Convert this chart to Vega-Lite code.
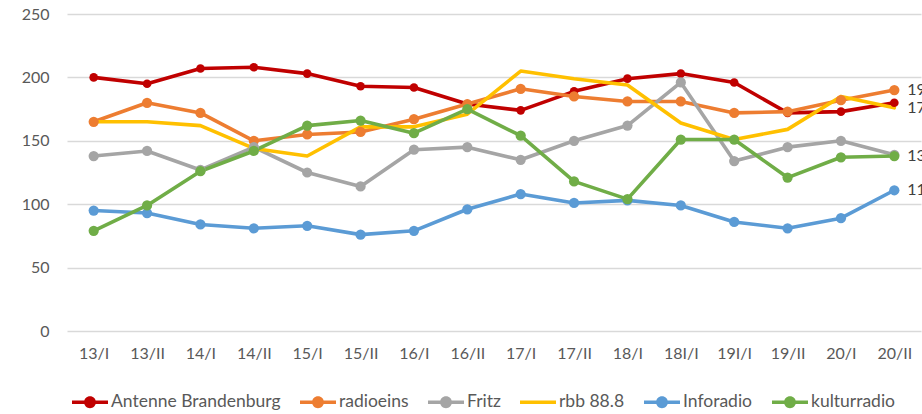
{
  "$schema": "https://vega.github.io/schema/vega-lite/v6.json",
  "width": 854,
  "height": 317,
  "autosize": {"type": "none"},
  "padding": {"left": 67, "top": 14, "right": 1, "bottom": 83},
  "background": "white",
  "config": {
    "view": {"stroke": null},
    "font": "Lato",
    "axis": {"labelFont": "Lato", "labelColor": "#595959", "labelFontSize": 16, "title": null},
    "legend": {"title": null, "orient": "none", "direction": "horizontal", "legendX": 5, "legendY": 370,
      "labelFont": "Lato", "labelFontSize": 17.5, "labelColor": "#595959", "labelOffset": 3, "labelLimit": 0,
      "columnPadding": 19, "symbolSize": 1296, "symbolStrokeWidth": 0, "symbolOpacity": 1}
  },
  "data": {
    "values": [
      {"period": "13/I", "station": "Antenne Brandenburg", "value": 200},
      {"period": "13/II", "station": "Antenne Brandenburg", "value": 195},
      {"period": "14/I", "station": "Antenne Brandenburg", "value": 207},
      {"period": "14/II", "station": "Antenne Brandenburg", "value": 208},
      {"period": "15/I", "station": "Antenne Brandenburg", "value": 203},
      {"period": "15/II", "station": "Antenne Brandenburg", "value": 193},
      {"period": "16/I", "station": "Antenne Brandenburg", "value": 192},
      {"period": "16/II", "station": "Antenne Brandenburg", "value": 179},
      {"period": "17/I", "station": "Antenne Brandenburg", "value": 174},
      {"period": "17/II", "station": "Antenne Brandenburg", "value": 189},
      {"period": "18/I", "station": "Antenne Brandenburg", "value": 199},
      {"period": "18I/I", "station": "Antenne Brandenburg", "value": 203},
      {"period": "19I/I", "station": "Antenne Brandenburg", "value": 196},
      {"period": "19/II", "station": "Antenne Brandenburg", "value": 172},
      {"period": "20/I", "station": "Antenne Brandenburg", "value": 173},
      {"period": "20/II", "station": "Antenne Brandenburg", "value": 180},

      {"period": "13/I", "station": "radioeins", "value": 165},
      {"period": "13/II", "station": "radioeins", "value": 180},
      {"period": "14/I", "station": "radioeins", "value": 172},
      {"period": "14/II", "station": "radioeins", "value": 150},
      {"period": "15/I", "station": "radioeins", "value": 155},
      {"period": "15/II", "station": "radioeins", "value": 157},
      {"period": "16/I", "station": "radioeins", "value": 167},
      {"period": "16/II", "station": "radioeins", "value": 179},
      {"period": "17/I", "station": "radioeins", "value": 191},
      {"period": "17/II", "station": "radioeins", "value": 185},
      {"period": "18/I", "station": "radioeins", "value": 181},
      {"period": "18I/I", "station": "radioeins", "value": 181},
      {"period": "19I/I", "station": "radioeins", "value": 172},
      {"period": "19/II", "station": "radioeins", "value": 173},
      {"period": "20/I", "station": "radioeins", "value": 182},
      {"period": "20/II", "station": "radioeins", "value": 190},

      {"period": "13/I", "station": "Fritz", "value": 138},
      {"period": "13/II", "station": "Fritz", "value": 142},
      {"period": "14/I", "station": "Fritz", "value": 127},
      {"period": "14/II", "station": "Fritz", "value": 145},
      {"period": "15/I", "station": "Fritz", "value": 125},
      {"period": "15/II", "station": "Fritz", "value": 114},
      {"period": "16/I", "station": "Fritz", "value": 143},
      {"period": "16/II", "station": "Fritz", "value": 145},
      {"period": "17/I", "station": "Fritz", "value": 135},
      {"period": "17/II", "station": "Fritz", "value": 150},
      {"period": "18/I", "station": "Fritz", "value": 162},
      {"period": "18I/I", "station": "Fritz", "value": 196},
      {"period": "19I/I", "station": "Fritz", "value": 134},
      {"period": "19/II", "station": "Fritz", "value": 145},
      {"period": "20/I", "station": "Fritz", "value": 150},
      {"period": "20/II", "station": "Fritz", "value": 139},

      {"period": "13/I", "station": "rbb 88.8", "value": 165},
      {"period": "13/II", "station": "rbb 88.8", "value": 165},
      {"period": "14/I", "station": "rbb 88.8", "value": 162},
      {"period": "14/II", "station": "rbb 88.8", "value": 144},
      {"period": "15/I", "station": "rbb 88.8", "value": 138},
      {"period": "15/II", "station": "rbb 88.8", "value": 161},
      {"period": "16/I", "station": "rbb 88.8", "value": 161},
      {"period": "16/II", "station": "rbb 88.8", "value": 171},
      {"period": "17/I", "station": "rbb 88.8", "value": 205},
      {"period": "17/II", "station": "rbb 88.8", "value": 199},
      {"period": "18/I", "station": "rbb 88.8", "value": 194},
      {"period": "18I/I", "station": "rbb 88.8", "value": 164},
      {"period": "19I/I", "station": "rbb 88.8", "value": 151},
      {"period": "19/II", "station": "rbb 88.8", "value": 159},
      {"period": "20/I", "station": "rbb 88.8", "value": 185},
      {"period": "20/II", "station": "rbb 88.8", "value": 176},

      {"period": "13/I", "station": "Inforadio", "value": 95},
      {"period": "13/II", "station": "Inforadio", "value": 93},
      {"period": "14/I", "station": "Inforadio", "value": 84},
      {"period": "14/II", "station": "Inforadio", "value": 81},
      {"period": "15/I", "station": "Inforadio", "value": 83},
      {"period": "15/II", "station": "Inforadio", "value": 76},
      {"period": "16/I", "station": "Inforadio", "value": 79},
      {"period": "16/II", "station": "Inforadio", "value": 96},
      {"period": "17/I", "station": "Inforadio", "value": 108},
      {"period": "17/II", "station": "Inforadio", "value": 101},
      {"period": "18/I", "station": "Inforadio", "value": 103},
      {"period": "18I/I", "station": "Inforadio", "value": 99},
      {"period": "19I/I", "station": "Inforadio", "value": 86},
      {"period": "19/II", "station": "Inforadio", "value": 81},
      {"period": "20/I", "station": "Inforadio", "value": 89},
      {"period": "20/II", "station": "Inforadio", "value": 111},

      {"period": "13/I", "station": "kulturradio", "value": 79},
      {"period": "13/II", "station": "kulturradio", "value": 99},
      {"period": "14/I", "station": "kulturradio", "value": 126},
      {"period": "14/II", "station": "kulturradio", "value": 142},
      {"period": "15/I", "station": "kulturradio", "value": 162},
      {"period": "15/II", "station": "kulturradio", "value": 166},
      {"period": "16/I", "station": "kulturradio", "value": 156},
      {"period": "16/II", "station": "kulturradio", "value": 175},
      {"period": "17/I", "station": "kulturradio", "value": 154},
      {"period": "17/II", "station": "kulturradio", "value": 118},
      {"period": "18/I", "station": "kulturradio", "value": 104},
      {"period": "18I/I", "station": "kulturradio", "value": 151},
      {"period": "19I/I", "station": "kulturradio", "value": 151},
      {"period": "19/II", "station": "kulturradio", "value": 121},
      {"period": "20/I", "station": "kulturradio", "value": 137},
      {"period": "20/II", "station": "kulturradio", "value": 138}
    ]
  },
  "encoding": {
    "x": {
      "field": "period",
      "type": "ordinal",
      "sort": null,
      "scale": {"type": "point", "padding": 0.5},
      "axis": {"labelAngle": 0, "domain": false, "ticks": false, "grid": false, "labelPadding": 14}
    },
    "y": {
      "field": "value",
      "type": "quantitative",
      "scale": {"domain": [0, 250], "nice": false},
      "axis": {"values": [0, 50, 100, 150, 200, 250], "domain": false, "ticks": false, "labelPadding": 18, "gridColor": "#D9D9D9", "gridWidth": 1.3}
    },
    "color": {"field": "station", "type": "nominal",
      "scale": {"domain": ["Antenne Brandenburg", "radioeins", "Fritz", "rbb 88.8", "Inforadio", "kulturradio"],
                "range": ["#C00000", "#ED7D31", "#A5A5A5", "#FFC000", "#5B9BD5", "#70AD47"]}}
  },
  "layer": [
    {
      "mark": {"type": "line", "strokeWidth": 3.6, "strokeCap": "round", "strokeJoin": "round"}
    },
    {
      "transform": [{"filter": "datum.station !== 'rbb 88.8'"}],
      "mark": {"type": "circle", "opacity": 1},
      "encoding": {
        "size": {"condition": {"test": "datum.station === 'Antenne Brandenburg'", "value": 75}, "value": 105}
      }
    },
    {
      "transform": [{"filter": "datum.period === '13/I'"}],
      "mark": {"type": "point", "filled": true, "opacity": 0},
      "encoding": {
        "shape": {"field": "station", "type": "nominal",
          "scale": {"domain": ["Antenne Brandenburg", "radioeins", "Fritz", "rbb 88.8", "Inforadio", "kulturradio"],
                    "range": [
                      "M-1,-0.1H1V0.1H-1Z M0.33,0A0.33,0.33 0 1 1 -0.33,0A0.33,0.33 0 1 1 0.33,0Z",
                      "M-1,-0.1H1V0.1H-1Z M0.33,0A0.33,0.33 0 1 1 -0.33,0A0.33,0.33 0 1 1 0.33,0Z",
                      "M-1,-0.1H1V0.1H-1Z M0.33,0A0.33,0.33 0 1 1 -0.33,0A0.33,0.33 0 1 1 0.33,0Z",
                      "M-1,-0.1H1V0.1H-1Z",
                      "M-1,-0.1H1V0.1H-1Z M0.33,0A0.33,0.33 0 1 1 -0.33,0A0.33,0.33 0 1 1 0.33,0Z",
                      "M-1,-0.1H1V0.1H-1Z M0.33,0A0.33,0.33 0 1 1 -0.33,0A0.33,0.33 0 1 1 0.33,0Z"
                    ]}}
      }
    },
    {
      "transform": [{"filter": "datum.period === '20/II' && (datum.station === 'radioeins' || datum.station === 'rbb 88.8' || datum.station === 'kulturradio' || datum.station === 'Inforadio')"}],
      "mark": {"type": "text", "align": "left", "baseline": "middle", "dx": 13, "fontSize": 16, "font": "Lato", "color": "#404040"},
      "encoding": {"text": {"field": "value", "type": "quantitative"}, "color": {"value": "#404040"}}
    }
  ]
}
